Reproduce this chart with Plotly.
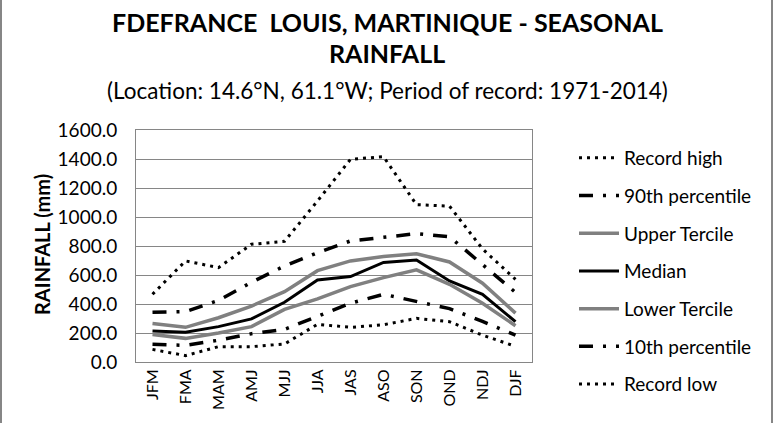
import plotly.graph_objects as go

seasons = ["JFM", "FMA", "MAM", "AMJ", "MJJ", "JJA", "JAS", "ASO", "SON", "OND", "NDJ", "DJF"]
record_high = [467, 697, 651, 812, 832, 1110, 1398, 1416, 1085, 1075, 780, 570]
p90 = [343, 347, 425, 550, 662, 754, 835, 858, 885, 864, 674, 480]
upper_tercile = [265, 239, 305, 386, 485, 630, 697, 727, 747, 690, 543, 337]
median = [214, 205, 244, 297, 412, 566, 589, 687, 703, 559, 467, 278]
lower_tercile = [189, 163, 200, 244, 363, 435, 520, 582, 635, 536, 405, 250]
p10 = [122, 115, 150, 195, 225, 318, 405, 467, 416, 368, 280, 185]
record_low = [87, 44, 106, 106, 124, 260, 239, 257, 301, 278, 185, 108]
y_ticks = [0, 200, 400, 600, 800, 1000, 1200, 1400, 1600]

FONT = "Lato, 'Open Sans', sans-serif"
GRAY = "#808080"
DOT = "3px,5px"
LDD = "14px,10px,3px,10px"

series = [
    ("Record high", record_high, "black", 3, DOT),
    ("90th percentile", p90, "black", 3.5, LDD),
    ("Upper Tercile", upper_tercile, GRAY, 3.5, "solid"),
    ("Median", median, "black", 3, "solid"),
    ("Lower Tercile", lower_tercile, GRAY, 3.5, "solid"),
    ("10th percentile", p10, "black", 3.5, LDD),
    ("Record low", record_low, "black", 3, DOT),
]

fig = go.Figure()
for i, (name, vals, col, w, dash) in enumerate(series):
    fig.add_trace(go.Scatter(
        x=seasons, y=vals, name=name, mode="lines", legendgroup=f"g{i}",
        line=dict(color=col, width=w, dash=dash),
    ))

W, H = 775, 423
L, R, T, B = 136, 243, 130, 61
pw, ph = W - L - R, H - T - B


def px_x(x):
    return (x - L) / pw


def px_y(y):
    return (H - B - y) / ph


fig.update_layout(
    width=W, height=H,
    margin=dict(l=L, r=R, t=T, b=B),
    paper_bgcolor="white", plot_bgcolor="white",
    font=dict(family=FONT, color="black"),
    showlegend=True,
    legend=dict(
        x=px_x(574), y=px_y(139), xanchor="left", yanchor="top",
        traceorder="grouped", tracegroupgap=10, maxheight=400,
        font=dict(size=19, family=FONT, color="black"),
        itemwidth=40, bgcolor="rgba(0,0,0,0)",
    ),
    xaxis=dict(
        range=[-0.5, 11.5], showgrid=False, zeroline=False,
        showline=True, linecolor="#868686", linewidth=1, mirror=True,
        tickangle=-90, tickfont=dict(size=16, family=FONT), ticks="",
    ),
    yaxis=dict(
        range=[0, 1600], tickvals=y_ticks, tickformat=".1f",
        showgrid=True, gridcolor="#868686", gridwidth=1,
        zeroline=False, showline=True, linecolor="#868686", linewidth=1, mirror=True,
        tickfont=dict(size=19, family=FONT), ticks="", ticklabelstandoff=14,
    ),
    annotations=[
        dict(text="<b>FDEFRANCE  LOUIS, MARTINIQUE - SEASONAL</b>", x=px_x(387), y=px_y(22),
             xref="paper", yref="paper", showarrow=False, font=dict(size=25, family=FONT),
             xanchor="center", yanchor="middle"),
        dict(text="<b>RAINFALL</b>", x=px_x(387), y=px_y(53),
             xref="paper", yref="paper", showarrow=False, font=dict(size=25, family=FONT),
             xanchor="center", yanchor="middle"),
        dict(text="(Location: 14.6°N, 61.1°W; Period of record: 1971-2014)", x=px_x(387), y=px_y(90),
             xref="paper", yref="paper", showarrow=False, font=dict(size=22.5, family=FONT),
             xanchor="center", yanchor="middle"),
        dict(text="<b>RAINFALL (mm)</b>", x=px_x(42), y=px_y(245), textangle=-90,
             xref="paper", yref="paper", showarrow=False, font=dict(size=20, family=FONT),
             xanchor="center", yanchor="middle"),
    ],
    shapes=[
        dict(type="line", xref="paper", yref="paper", x0=px_x(1), x1=px_x(1), y0=px_y(0), y1=px_y(H),
             line=dict(color="#868686", width=2)),
        dict(type="line", xref="paper", yref="paper", x0=px_x(772), x1=px_x(772), y0=px_y(0), y1=px_y(H),
             line=dict(color="#868686", width=2)),
    ],
)

fig.write_html(
    "out.html",
    config={"displayModeBar": False},
    post_script="document.body.style.margin='0px';document.body.style.overflow='hidden';",
)
